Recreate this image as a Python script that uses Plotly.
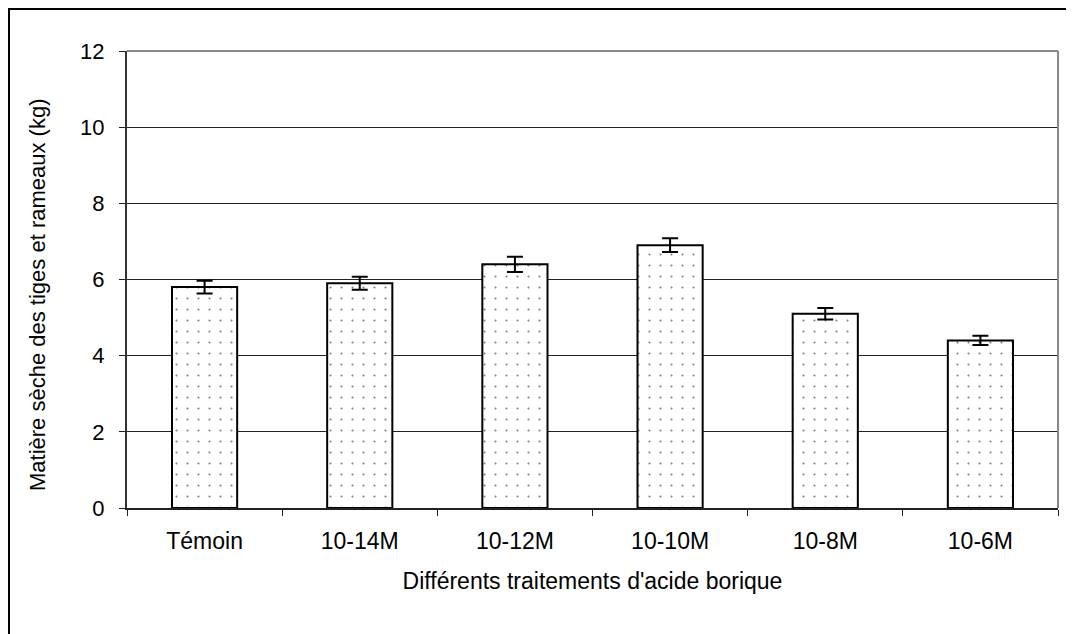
import plotly.graph_objects as go

categories = ["Témoin", "10-14M", "10-12M", "10-10M", "10-8M", "10-6M"]
values = [5.8, 5.9, 6.4, 6.9, 5.1, 4.4]
errors = [0.17, 0.17, 0.2, 0.18, 0.15, 0.12]
y_ticks = [0, 2, 4, 6, 8, 10, 12]

FONT = "Liberation Sans, Arial, sans-serif"

fig = go.Figure()
fig.add_trace(go.Bar(
    x=categories, y=values, width=0.42,
    marker=dict(color="white", line=dict(color="black", width=2),
                pattern=dict(shape=".", fgcolor="black", bgcolor="white", size=11, solidity=0.03)),
    error_y=dict(type="data", array=errors, visible=True, color="black", thickness=2, width=8),
))

# page body has an 8px margin; compensate so the plot area lands at 127..1058 x 51..508
OFF = 8
W, H = 1074 - OFF, 634 - OFF
L, R, T, B = 127 - OFF, 16, 51 - OFF, 126
pw, ph = W - L - R, H - T - B

fig.update_layout(
    width=W, height=H,
    margin=dict(l=L, r=R, t=T, b=B, autoexpand=False),
    paper_bgcolor="white", plot_bgcolor="white",
    font=dict(family=FONT, size=22, color="black"),
    showlegend=False,
    xaxis=dict(
        type="category", tickson="boundaries", ticks="outside", ticklen=6, tickcolor="#222",
        showline=True, linecolor="#222", linewidth=2, showgrid=False,
        tickfont=dict(size=23), ticklabelstandoff=11,
        title=dict(text="Différents traitements d'acide borique", font=dict(size=23), standoff=20),
        automargin=False,
    ),
    yaxis=dict(
        range=[0, 12], tickvals=y_ticks, ticks="outside", ticklen=6, tickcolor="#222",
        showline=True, linecolor="#333", linewidth=2, showgrid=True, gridcolor="#222", gridwidth=1,
        zeroline=False, tickfont=dict(size=22), ticklabelstandoff=10,
        automargin=False,
    ),
    annotations=[
        dict(text="Matière sèche des tiges et rameaux (kg)", textangle=-90,
             xref="paper", yref="paper", x=(29 - L) / pw, y=1 - (295 - OFF - T) / ph,
             xanchor="center", yanchor="middle", showarrow=False, font=dict(size=22)),
    ],
    shapes=[
        dict(type="line", xref="paper", yref="paper", x0=1, x1=1, y0=0, y1=1,
             line=dict(color="#888", width=2)),
        dict(type="line", xref="paper", yref="paper", x0=0, x1=1, y0=1, y1=1,
             line=dict(color="#888", width=2)),
        dict(type="rect", xref="paper", yref="paper",
             x0=(1 - L) / pw, x1=1.2, y0=-0.5, y1=1 + (T - 1) / ph,
             line=dict(color="black", width=2), layer="above"),
    ],
)

fig.write_html("out.html")
